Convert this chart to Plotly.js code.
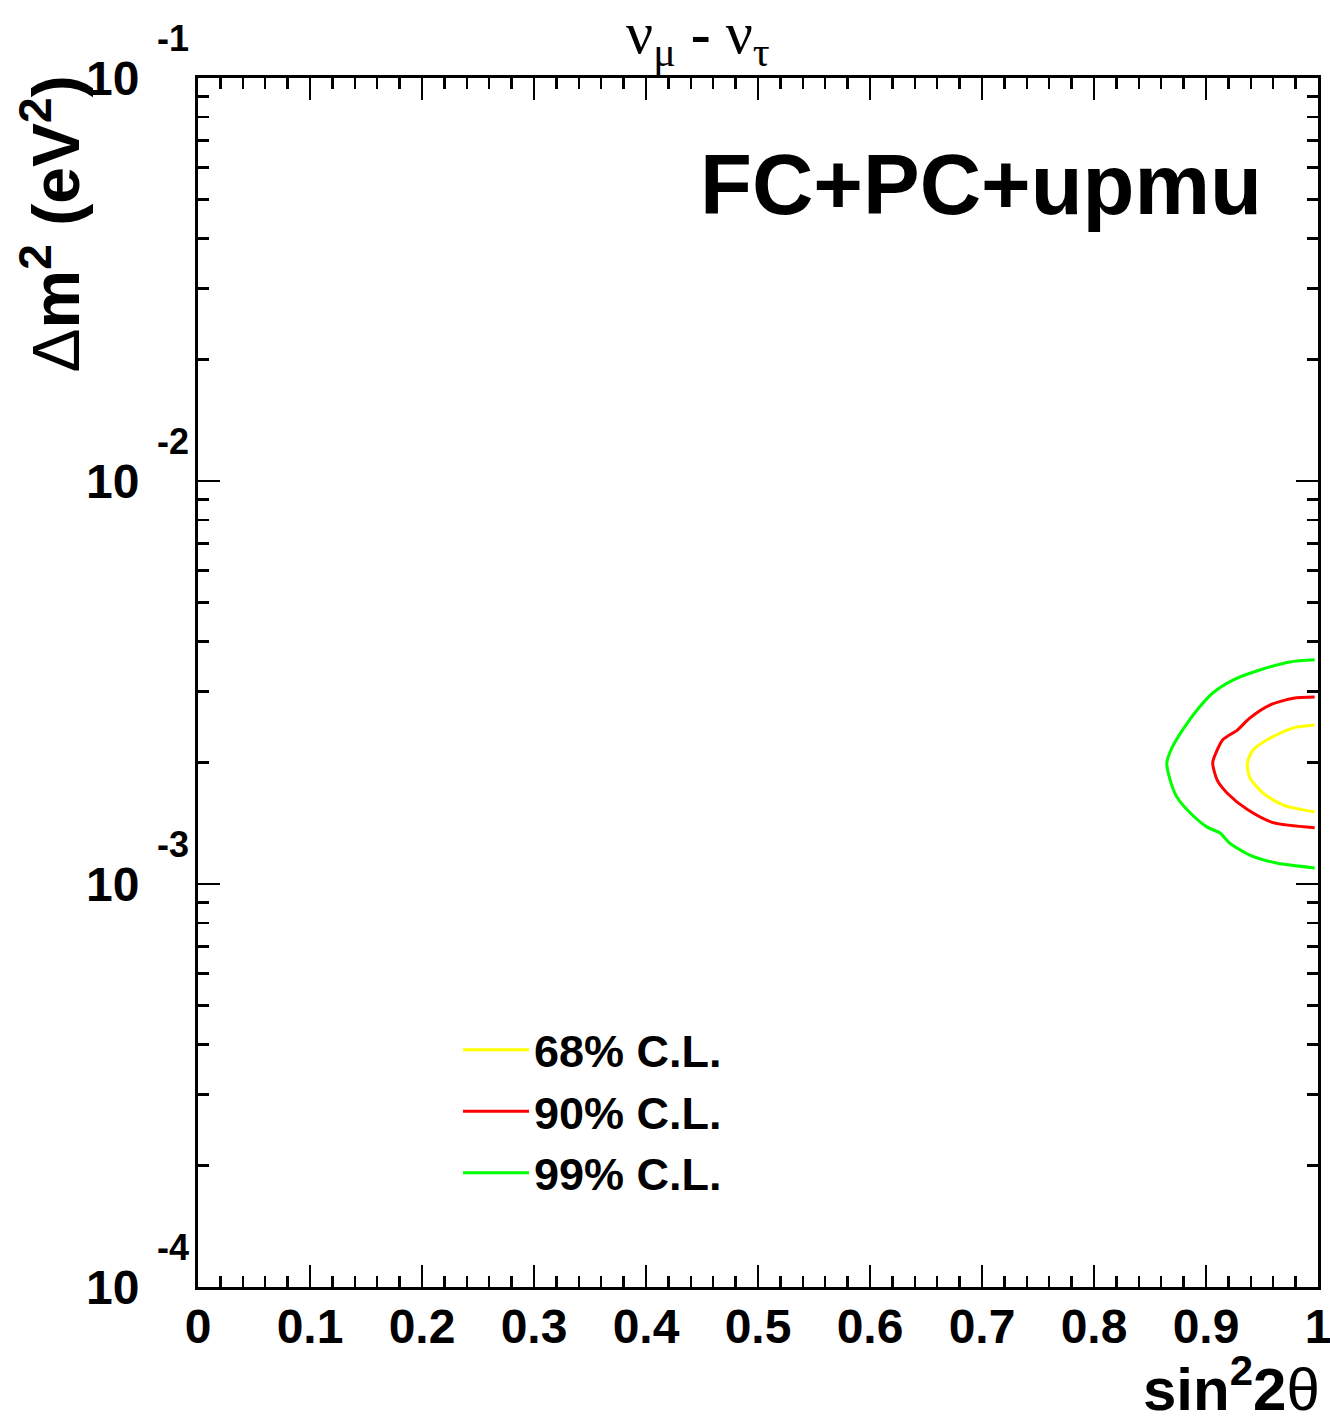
<!DOCTYPE html>
<html>
<head>
<meta charset="utf-8">
<script src="https://cdn.plot.ly/plotly-3.0.1.min.js"></script>
<style>
html,body{margin:0;padding:0;background:#fff;}
#chart{width:1330px;height:1425px;}
</style>
</head>
<body>
<div id="chart"></div>
<script>
// sin^2(2theta) and Delta m^2 (eV^2) for each confidence contour
const cl68_x = [0.997, 0.978, 0.957, 0.942, 0.937, 0.939, 0.951, 0.969, 0.997];
const cl68_y = [2.48e-3, 2.44e-3, 2.30e-3, 2.15e-3, 2.00e-3, 1.84e-3, 1.68e-3, 1.57e-3, 1.51e-3];

const cl90_x = [0.997, 0.978, 0.957, 0.939, 0.928, 0.915, 0.910, 0.906, 0.910, 0.919, 0.937, 0.960, 0.997];
const cl90_y = [2.91e-3, 2.89e-3, 2.78e-3, 2.58e-3, 2.41e-3, 2.28e-3, 2.15e-3, 2.00e-3, 1.81e-3, 1.68e-3, 1.53e-3, 1.42e-3, 1.38e-3];

const cl99_x = [0.997, 0.975, 0.948, 0.924, 0.906, 0.892, 0.879, 0.870, 0.865, 0.868, 0.874, 0.886, 0.901, 0.9125, 0.921, 0.939, 0.963, 0.997];
const cl99_y = [3.60e-3, 3.556e-3, 3.396e-3, 3.207e-3, 2.978e-3, 2.702e-3, 2.410e-3, 2.188e-3, 1.996e-3, 1.811e-3, 1.644e-3, 1.500e-3, 1.384e-3, 1.338e-3, 1.264e-3, 1.180e-3, 1.127e-3, 1.096e-3];

const seriesNames = ["68% C.L.", "90% C.L.", "99% C.L."];
const seriesColors = ["#ffff00", "#ff0000", "#00ff00"];

const xTickVals = [0, 0.1, 0.2, 0.3, 0.4, 0.5, 0.6, 0.7, 0.8, 0.9, 1];
const xTickText = ["0", "0.1", "0.2", "0.3", "0.4", "0.5", "0.6", "0.7", "0.8", "0.9", "1"];
const yTickVals = [1e-4, 1e-3, 1e-2, 1e-1];
const yTickBase = ["10", "10", "10", "10"];
const yTickExp = ["-4", "-3", "-2", "-1"];

const SANS = "Liberation Sans, Arial, Helvetica, sans-serif";
const SERIF = "Liberation Serif, Times New Roman, serif";

const xs = [cl68_x, cl90_x, cl99_x];
const ys = [cl68_y, cl90_y, cl99_y];
const traces = xs.map((x, i) => ({
  type: "scatter", mode: "lines",
  x: x, y: ys[i],
  name: seriesNames[i],
  line: {color: seriesColors[i], width: 3, shape: "spline", smoothing: 0.7},
  hoverinfo: "skip"
}));

const annotations = [];
yTickVals.forEach((v, i) => {
  annotations.push({
    xref: "paper", yref: "y", x: 0, y: Math.log10(v),
    xanchor: "left", yanchor: "middle", xshift: -43, yshift: 40,
    text: yTickExp[i], showarrow: false,
    font: {family: SANS, size: 36, weight: "bold", color: "#000"}
  });
});
annotations.push({
  xref: "paper", yref: "paper", x: (698 - 198) / 1120, y: (1287 - 184) / 1209,
  xanchor: "left", yanchor: "middle",
  text: "FC+PC+upmu", showarrow: false,
  font: {family: SANS, size: 85, weight: "bold", color: "#000"}
});
annotations.push({
  xref: "paper", yref: "paper", x: (698 - 198) / 1120, y: 1 + 40 / 1209,
  xanchor: "center", yanchor: "middle",
  text: "ν<sub>μ</sub> <b>-</b> ν<sub>τ</sub>", showarrow: false,
  font: {family: SERIF, size: 60, color: "#000"}
});
annotations.push({
  xref: "paper", yref: "paper", x: 1 + 4 / 1120, y: -(1425 - 1287) / 1209,
  xanchor: "right", yanchor: "bottom",
  text: "<b>sin<sup>2</sup>2</b>θ", showarrow: false,
  font: {family: SANS, size: 60, color: "#000"}
});
annotations.push({
  xref: "paper", yref: "paper", x: -(198 - 52) / 1120, y: 1 + 4 / 1209,
  xanchor: "center", yanchor: "top", textangle: -90,
  text: "Δ<b>m<sup>2</sup> (eV<sup>2</sup>)</b>", showarrow: false,
  font: {family: SANS, size: 66, color: "#000"}
});

const layout = {
  width: 1330, height: 1425,
  margin: {l: 198, r: 12, t: 78, b: 138},
  paper_bgcolor: "#fff", plot_bgcolor: "#fff",
  showlegend: true,
  legend: {
    x: (458 - 198) / 1120, y: (1287 - 1014) / 1209, xanchor: "left", yanchor: "top",
    bgcolor: "rgba(0,0,0,0)", borderwidth: 0,
    font: {family: SANS, size: 45, weight: "bold", color: "#000"},
    itemwidth: 66, tracegroupgap: 0
  },
  xaxis: {
    range: [0, 1], showgrid: false, zeroline: false,
    showline: true, linecolor: "#000", linewidth: 3, mirror: "allticks",
    ticks: "inside", ticklen: 22, tickwidth: 2.5, tickcolor: "#000",
    tickmode: "array", tickvals: xTickVals, ticktext: xTickText,
    ticklabelstandoff: -5, ticklabeloverflow: "allow",
    tickfont: {family: SANS, size: 48, weight: "bold", color: "#000"},
    minor: {dtick: 0.02, ticks: "inside", ticklen: 11, tickwidth: 2.5, tickcolor: "#000", showgrid: false}
  },
  yaxis: {
    type: "log", range: [-4, -1], showgrid: false, zeroline: false,
    showline: true, linecolor: "#000", linewidth: 3, mirror: "allticks",
    ticks: "inside", ticklen: 22, tickwidth: 2.5, tickcolor: "#000",
    tickmode: "array", tickvals: yTickVals, ticktext: yTickBase,
    ticklabelstandoff: 46,
    tickfont: {family: SANS, size: 48, weight: "bold", color: "#000"},
    minor: {dtick: "D1", ticks: "inside", ticklen: 11, tickwidth: 2.5, tickcolor: "#000", showgrid: false}
  },
  annotations: annotations
};

Plotly.newPlot("chart", traces, layout, {staticPlot: true, displayModeBar: false});
</script>
</body>
</html>
